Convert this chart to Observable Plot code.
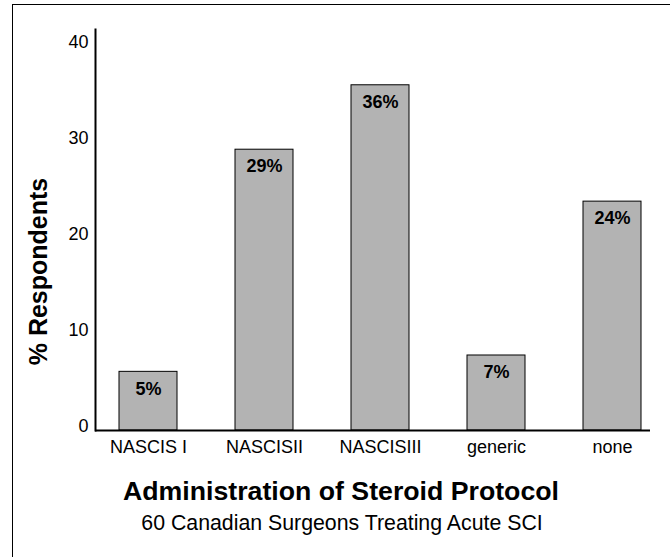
<!DOCTYPE html>
<html>
<head>
<meta charset="utf-8">
<script src="https://cdn.jsdelivr.net/npm/d3@7"></script>
<script src="https://cdn.jsdelivr.net/npm/@observablehq/plot@0.6"></script>
<style>
  html, body { margin: 0; padding: 0; background: #fff; }
  #wrap { position: relative; width: 670px; height: 557px; overflow: hidden; font-family: "Liberation Sans", Arial, sans-serif; }
  #border { position: absolute; left: 12px; top: 4px; width: 700px; height: 600px; border-left: 1.3px solid #000; border-top: 1.3px solid #000; }
  #chart { position: absolute; left: 0; top: 0; }
</style>
</head>
<body>
<div id="wrap"><div id="border"></div><div id="chart"></div></div>
<script>
const categories = ["NASCIS I", "NASCISII", "NASCISIII", "generic", "none"];
const values = [6.1, 29.2, 35.9, 7.8, 23.8];
const valueLabels = ["5%", "29%", "36%", "7%", "24%"];
const yTicks = [0, 10, 20, 30, 40];
const yTitle = "% Respondents";
const xTitle = "Administration of Steroid Protocol";
const subTitle = "60 Canadian Surgeons Treating Acute SCI";

const data = categories.map((c, i) => ({cat: c, v: values[i], lab: valueLabels[i]}));

const chart = Plot.plot({
  width: 670,
  height: 557,
  marginLeft: 95,
  marginRight: 20,
  marginTop: 29,
  marginBottom: 127,
  style: {background: "transparent", fontFamily: "'Liberation Sans', Arial, sans-serif", color: "#000"},
  x: {domain: categories, range: [95, 664], paddingInner: 0.5, paddingOuter: 0.2},
  y: {domain: [0, 41.7]},
  marks: [
    Plot.barY(data, {x: "cat", y: "v", fill: "#b3b3b3", stroke: "#000", strokeWidth: 1}),
    Plot.text(data, {x: "cat", y: "v", text: "lab", dy: 17, fontSize: 18, fontWeight: "bold", fill: "#000"}),
    Plot.frame({anchor: "left", stroke: "#000", strokeWidth: 2}),
    Plot.ruleY([0], {stroke: "#000", strokeWidth: 2}),
    Plot.axisY({ticks: yTicks, tickSize: 0, tickPadding: 7, fontSize: 18, dy: -4, label: null}),
    Plot.axisX({tickSize: 0, tickPadding: 10, fontSize: 18, label: null}),
    Plot.text([yTitle], {frameAnchor: "left", textAnchor: "middle", lineAnchor: "middle", rotate: -90, dx: -56.5, dy: 41.5, fontSize: 25, fontWeight: "bold", fill: "#000"}),
    Plot.text([xTitle], {frameAnchor: "bottom", textAnchor: "middle", lineAnchor: "middle", dx: -32, dy: 61, fontSize: 26.7, fontWeight: "bold", fill: "#000"}),
    Plot.text([subTitle], {frameAnchor: "bottom", textAnchor: "middle", lineAnchor: "middle", dx: -31, dy: 93, fontSize: 21.3, fill: "#000"})
  ]
});
document.getElementById("chart").appendChild(chart);
</script>
</body>
</html>
